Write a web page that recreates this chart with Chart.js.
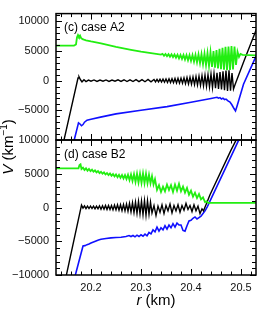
<!DOCTYPE html>
<html>
<head>
<meta charset="utf-8">
<script src="https://cdn.jsdelivr.net/npm/chart.js@4.4.0/dist/chart.umd.min.js"></script>
<style>
  html, body { margin: 0; padding: 0; background: #fff; }
  #wrap { position: relative; width: 266px; height: 313px; }
  canvas { position: absolute; left: 0; top: 0; }
</style>
</head>
<body>
<div id="wrap">
  <canvas id="panelA" width="266" height="313"></canvas>
  <canvas id="panelB" width="266" height="313"></canvas>
</div>
<script>
// ---- axis ticks ----
const xTickLabels = [20.2, 20.3, 20.4, 20.5];
const yTicksTop = [-5000, 0, 5000, 10000];
const yTicksBottom = [-10000, -5000, 0, 5000, 10000];

// ---- (c) case A2 ----
const rGreenA = [20.129, 20.166, 20.170, 20.172, 20.174, 20.176, 20.178, 20.180, 20.183, 20.186, 20.190, 20.200, 20.220, 20.250, 20.280, 20.300, 20.320, 20.340,
  20.343, 20.346, 20.349, 20.352, 20.355, 20.358, 20.361, 20.364, 20.367, 20.370, 20.373, 20.376, 20.379, 20.382, 20.385, 20.388, 20.391, 20.394, 20.397, 20.400,
  20.403, 20.406, 20.409, 20.412, 20.415, 20.418, 20.421, 20.424, 20.427, 20.430, 20.433, 20.436, 20.439, 20.442, 20.445, 20.448, 20.451, 20.454, 20.457, 20.460,
  20.463, 20.466, 20.469, 20.472, 20.475, 20.478, 20.481, 20.484, 20.487, 20.490, 20.493, 20.496, 20.499, 20.503, 20.531];
const vGreenA = [5900, 5900, 6100, 7300, 7700, 7400, 7600, 7200, 7000, 6900, 6800, 6600, 6300, 5700, 5200, 4900, 4650, 4400,
  4530, 4190, 4500, 4120, 4460, 4040, 4430, 3950, 4400, 3860, 4370, 3760, 4350, 3660, 4330, 3560, 4310, 3450, 4310, 3330,
  4320, 3220, 4360, 3090, 4420, 2950, 4480, 2800, 4560, 2640, 4660, 2480, 4800, 2320, 4970, 2180, 5150, 2050, 5350, 1930,
  5550, 1830, 5700, 1780, 5740, 1820, 5810, 1870, 5730, 2640, 4900, 4000, 4500, 4350, 4250];

const rBlackA = [20.140, 20.174, 20.176, 20.179, 20.182, 20.186, 20.190, 20.195, 20.200, 20.206, 20.212, 20.218, 20.224, 20.230, 20.236, 20.242, 20.248,
  20.254, 20.260, 20.266, 20.272, 20.278, 20.284, 20.290, 20.296, 20.302, 20.308, 20.314, 20.320, 20.326,
  20.329, 20.332, 20.335, 20.338, 20.341, 20.344, 20.347, 20.350, 20.353, 20.356, 20.359, 20.362, 20.365, 20.368, 20.371, 20.374, 20.377, 20.380,
  20.383, 20.386, 20.389, 20.392, 20.395, 20.398, 20.401, 20.404, 20.407, 20.410, 20.413, 20.416, 20.419, 20.422, 20.425, 20.428, 20.431, 20.434,
  20.437, 20.440, 20.443, 20.446, 20.449, 20.452, 20.455, 20.458, 20.461, 20.464, 20.467, 20.470, 20.473, 20.476, 20.479, 20.482, 20.485,
  20.488, 20.505, 20.531];
const vBlackA = [-12250, 450, 650, 150, -200, 150, -150, 100, -100, 120, -120, 100, -100, 120, -120, 100, -100,
  130, -130, 150, -150, 130, -150, 170, -170, 180, -180, 200, -200, 200,
  -200, 210, -220, 230, -240, 250, -265, 280, -295, 310, -325, 340, -355, 370, -385, 400, -410, 420,
  -445, 470, -495, 520, -545, 570, -590, 620, -650, 690, -720, 750, -790, 830, -870, 920, -960, 1000,
  -1050, 1100, -1150, 1200, -1260, 1320, -1380, 1440, -1500, 1560, -1620, 1700, -1750, 1750, -1700, 1300, -1400,
  -700, 3100, 8700];

const rBlueA = [20.160, 20.175, 20.178, 20.181, 20.184, 20.187, 20.192, 20.200, 20.219, 20.250, 20.300, 20.352, 20.400, 20.440, 20.452,
  20.455, 20.458, 20.461, 20.464, 20.467, 20.470, 20.474, 20.478, 20.482, 20.486, 20.489, 20.492, 20.505, 20.531];
const vBlueA = [-12180, -7100, -7300, -7600, -7400, -7000, -6650, -6500, -6150, -5600, -5000, -4370, -3650, -3000, -2800,
  -2950, -2850, -3100, -2950, -3200, -3100, -3400, -3600, -4100, -4700, -5100, -4300, -600, 4300];

// ---- (d) case B2 ----
const rGreenB = [20.129, 20.175, 20.177, 20.179, 20.181, 20.184, 20.187, 20.190, 20.193, 20.196, 20.199, 20.202, 20.205, 20.208, 20.211, 20.214,
  20.217, 20.220, 20.223, 20.226, 20.229, 20.232, 20.235, 20.238, 20.241, 20.244, 20.247, 20.250, 20.253, 20.256, 20.259, 20.262, 20.265,
  20.268, 20.271, 20.274, 20.277, 20.280, 20.283, 20.286, 20.289, 20.292, 20.295, 20.298, 20.301, 20.304, 20.307, 20.310, 20.313, 20.316,
  20.319, 20.322, 20.325, 20.328, 20.332, 20.336, 20.340, 20.344, 20.348, 20.352, 20.356, 20.360, 20.364, 20.368, 20.372, 20.376, 20.380,
  20.384, 20.388, 20.392, 20.396, 20.400, 20.404, 20.408, 20.412, 20.416, 20.420, 20.424, 20.428, 20.431, 20.434, 20.531];
const vGreenB = [5800, 5800, 6300, 6400, 5700, 5900, 5550, 5800, 5450, 5700, 5400, 5600, 5300, 5500, 5200, 5400,
  5100, 5300, 5000, 5200, 4900, 5100, 4800, 5050, 4700, 4950, 4600, 4900, 4500, 4850, 4400, 4800, 4300,
  4800, 4200, 4850, 4050, 4900, 3950, 4950, 3800, 5000, 3700, 5000, 3650, 5050, 3600, 5000, 3600, 4850,
  3600, 4650, 3400, 4200, 2600, 3300, 2300, 3100, 2400, 3400, 2600, 3300, 2300, 3400, 2500, 3500, 2400,
  3100, 2200, 2900, 1900, 2500, 1600, 2200, 1400, 2000, 1200, 1500, 800, 900, 700, 700];

const rBlackB = [20.140, 20.181, 20.184, 20.187, 20.190, 20.193, 20.196, 20.199, 20.202, 20.205, 20.208, 20.211, 20.214, 20.217, 20.220, 20.223,
  20.226, 20.229, 20.232, 20.235, 20.238, 20.241, 20.244, 20.247, 20.250, 20.253, 20.256, 20.259, 20.262, 20.265, 20.268, 20.271, 20.274,
  20.277, 20.280, 20.283, 20.286, 20.289, 20.292, 20.295, 20.298, 20.301, 20.304, 20.307, 20.310, 20.313, 20.316, 20.319, 20.322, 20.326,
  20.330, 20.334, 20.338, 20.342, 20.346, 20.350, 20.354, 20.358, 20.362, 20.366, 20.370, 20.374, 20.378, 20.382, 20.386, 20.390, 20.394,
  20.398, 20.402, 20.406, 20.410, 20.414, 20.418, 20.422, 20.425, 20.431, 20.438, 20.480, 20.500];
const vBlackB = [-13700, 350, -100, 250, -150, 200, -150, 200, -150, 200, -200, 200, -200, 250, -250, 250,
  -250, 300, -300, 300, -300, 300, -350, 350, -350, 400, -400, 400, -450, 450, -500, 500, -550,
  600, -650, 700, -750, 800, -850, 900, -950, 950, -1050, 1000, -1150, 1000, -1000, 800, -800, 300,
  -1200, 200, -700, 400, -900, 300, -500, 500, -800, 300, -500, 400, -700, 300, -400, 600, -300,
  300, -600, 400, -500, 200, -900, -200, -500, 600, 1900, 8500, 11400];

const rBlueB = [20.160, 20.184, 20.188, 20.192, 20.196, 20.200, 20.205, 20.210, 20.215, 20.220, 20.230, 20.240, 20.250, 20.260, 20.270,
  20.276, 20.280, 20.284, 20.288, 20.292, 20.296, 20.300, 20.304, 20.308, 20.312, 20.316, 20.320, 20.324, 20.328, 20.332, 20.336, 20.340,
  20.344, 20.348, 20.352, 20.356, 20.360, 20.364, 20.368, 20.372, 20.376, 20.380, 20.384, 20.388, 20.392, 20.396, 20.400, 20.404, 20.408,
  20.412, 20.416, 20.420, 20.424, 20.428, 20.432, 20.437, 20.486, 20.505];
const vBlueB = [-12450, -5700, -5650, -5500, -5400, -5250, -5100, -4950, -4800, -4700, -4600, -4500, -4450, -4400, -4300,
  -4150, -4300, -4150, -4350, -4100, -4300, -4050, -4250, -3950, -4200, -3700, -3900, -3300, -3600, -2900, -3500, -3000,
  -3300, -2700, -3200, -2600, -3000, -2400, -2900, -2300, -2600, -2600, -3400, -3500, -2700, -2000, -1900, -1600, -1400,
  -1700, -1500, -1300, -900, -500, 0, 800, 8500, 11500];

const FONT = '"Liberation Sans", Arial, Helvetica, sans-serif';
const GREEN = '#22ee11';
const BLACK = '#000000';
const BLUE = '#1010ff';

function toPoints(rs, vs) {
    return rs.map((r, i) => ({ x: r, y: vs[i] }));
}

function fmt(v) {
    return v < 0 ? '\u2212' + Math.abs(v) : String(v);
}

// minor tick positions along the axes
function steps(from, to, step) {
    const out = [];
    for (let v = from; v <= to + step * 1e-6; v += step) out.push(Math.round(v * 1000) / 1000);
    return out;
}
const xMinor = steps(20.14, 20.52, 0.02);

// draws frame, inward ticks on all four sides and the panel label
const framePlugin = {
    id: 'frame',
    afterDraw(chart, args, opts) {
        const { ctx, chartArea: a } = chart;
        const x = chart.scales.x, y = chart.scales.y;
        ctx.save();
        ctx.strokeStyle = '#000';
        ctx.lineWidth = 1;
        ctx.beginPath();
        xMinor.forEach(v => {
            const major = Math.abs(v * 10 - Math.round(v * 10)) < 1e-6;
            const len = major ? 6 : 3.5;
            const px = Math.round(x.getPixelForValue(v)) + 0.5;
            ctx.moveTo(px, a.top); ctx.lineTo(px, a.top + len);
            ctx.moveTo(px, a.bottom); ctx.lineTo(px, a.bottom - len);
        });
        for (let v = -10000; v <= y.max; v += 1000) {
            const len = v % 5000 === 0 ? 6 : 4;
            const py = Math.round(y.getPixelForValue(v)) + 0.5;
            ctx.moveTo(a.left, py); ctx.lineTo(a.left + len, py);
            ctx.moveTo(a.right, py); ctx.lineTo(a.right - len, py);
        }
        ctx.stroke();
        ctx.lineWidth = 1.5;
        ctx.strokeRect(a.left, a.top, a.right - a.left, a.bottom - a.top);

        ctx.fillStyle = '#000';
        ctx.font = '12px ' + FONT;
        ctx.textBaseline = 'middle';
        ctx.textAlign = 'left';
        ctx.fillText(opts.label, a.left + 8, a.top + 14.5);

        if (opts.titles) {
            drawRich(ctx, [['italic 15px', 'r'], ['15px', ' (km)']], (a.left + a.right) / 2, 300.5, 0);
            drawRich(ctx, [['italic 15px', 'V'], ['15px', ' (km'], ['10px', '\u22121', -5], ['15px', ')']], 9, 147, -Math.PI / 2);
        }
        ctx.restore();
    }
};

function drawRich(ctx, parts, cx, cy, rot) {
    ctx.save();
    ctx.translate(cx, cy);
    ctx.rotate(rot);
    ctx.textBaseline = 'middle';
    ctx.textAlign = 'left';
    let total = 0;
    parts.forEach(p => { ctx.font = p[0] + ' ' + FONT; total += ctx.measureText(p[1]).width; });
    let pos = -total / 2;
    parts.forEach(p => {
        ctx.font = p[0] + ' ' + FONT;
        ctx.fillText(p[1], pos, p[2] || 0);
        pos += ctx.measureText(p[1]).width;
    });
    ctx.restore();
}

function makePanel(id, series, cfg) {
    const ctx = document.getElementById(id).getContext('2d');
    return new Chart(ctx, {
        type: 'line',
        data: {
            datasets: series.map(s => ({
                data: toPoints(s.r, s.v),
                borderColor: s.color,
                borderWidth: s.width,
                pointRadius: 0,
                tension: 0,
                fill: false
            }))
        },
        options: {
            responsive: false,
            animation: false,
            events: [],
            layout: { padding: cfg.padding },
            plugins: {
                legend: { display: false },
                tooltip: { enabled: false },
                frame: { label: cfg.label, titles: cfg.titles }
            },
            scales: {
                x: {
                    type: 'linear',
                    min: 20.13,
                    max: 20.53,
                    display: cfg.showX,
                    grid: { display: false, drawTicks: false },
                    border: { display: false },
                    afterBuildTicks: s => { s.ticks = xTickLabels.map(v => ({ value: v })); },
                    afterFit: s => { if (cfg.showX) s.height = 38; },
                    ticks: {
                        autoSkip: false,
                        maxRotation: 0,
                        padding: 6,
                        color: '#111',
                        font: { family: FONT, size: 11 },
                        callback: v => v.toFixed(1)
                    }
                },
                y: {
                    type: 'linear',
                    min: -10000,
                    max: cfg.yMax,
                    grid: { display: false, drawTicks: false },
                    border: { display: false },
                    afterBuildTicks: s => { s.ticks = cfg.yTicks.map(v => ({ value: v })); },
                    afterFit: s => { s.width = 56; },
                    ticks: {
                        autoSkip: false,
                        padding: 7,
                        color: '#111',
                        font: { family: FONT, size: 11 },
                        callback: v => fmt(v)
                    }
                }
            }
        },
        plugins: [framePlugin]
    });
}

makePanel('panelA', [
    { r: rGreenA, v: vGreenA, color: GREEN, width: 1.8 },
    { r: rBlackA, v: vBlackA, color: BLACK, width: 1.4 },
    { r: rBlueA, v: vBlueA, color: BLUE, width: 1.6 }
], { label: '(c) case A2', yMax: 11300, yTicks: yTicksTop, showX: false, titles: false,
     padding: { top: 5, right: 10, bottom: 173, left: 0 } });

makePanel('panelB', [
    { r: rGreenB, v: vGreenB, color: GREEN, width: 1.8 },
    { r: rBlackB, v: vBlackB, color: BLACK, width: 1.4 },
    { r: rBlueB, v: vBlueB, color: BLUE, width: 1.6 }
], { label: '(d) case B2', yMax: 10000, yTicks: yTicksBottom, showX: true, titles: true,
     padding: { top: 140, right: 10, bottom: 0, left: 0 } });
</script>
</body>
</html>
